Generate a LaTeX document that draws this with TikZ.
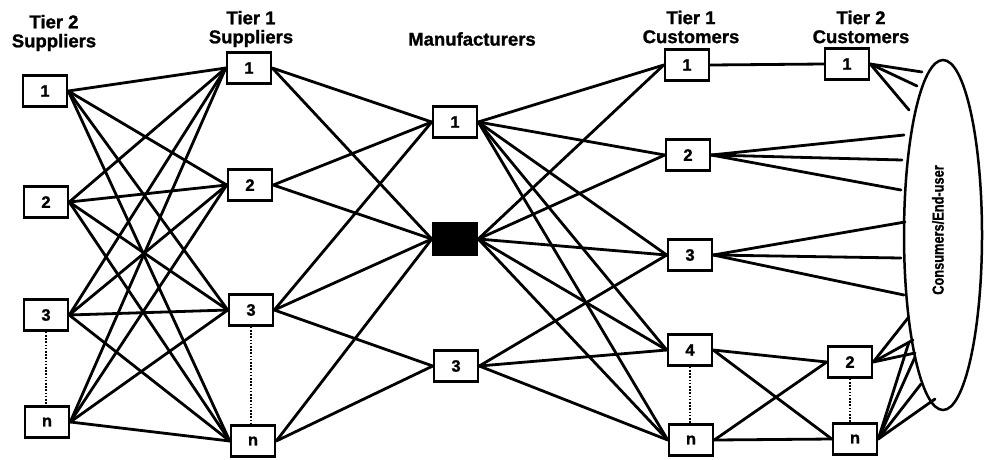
\documentclass[tikz,border=0pt]{standalone}
\usepackage{fontspec}
\setmainfont{Liberation Sans}
\newfontfamily\heavyfont[FakeBold=1.2]{Liberation Sans Bold}
\usepackage{graphicx}
\usetikzlibrary{shapes.geometric,backgrounds}

\begin{document}
\begin{tikzpicture}[x=1pt,y=-1pt,
  box/.style={draw, fill=white, line width=2.5pt, minimum width=44pt, minimum height=31pt,
              inner sep=0pt, font=\fontsize{16.5}{16.5}\selectfont\heavyfont},
  link/.style={line width=2.8pt, line cap=round},
  head/.style={align=center, inner sep=0pt, font=\fontsize{18.5}{19}\selectfont\heavyfont},
  gap/.style={line width=2.6pt, dash pattern=on 1.6pt off 1.6pt}]
\useasboundingbox (0,0) rectangle (984,459);

% column headings
\node[head] (h1) at (54,33) {Tier 2\\Suppliers};
\node[head] (h2) at (251,29) {Tier 1\\Suppliers};
\node[head] (h3) at (472,39) {Manufacturers};
\node[head] (h4) at (691,27) {Tier 1\\Customers};
\node[head] (h5) at (861,27) {Tier 2\\Customers};

% tier 2 suppliers
\node[box] (a1) at (45,91) {1};
\node[box] (a2) at (46,202) {2};
\node[box] (a3) at (46,315) {3};
\node[box] (an) at (47,422) {n};
% tier 1 suppliers
\node[box] (b1) at (249,68) {1};
\node[box] (b2) at (250,185) {2};
\node[box] (b3) at (251,310) {3};
\node[box] (bn) at (253,441) {n};
% manufacturers (focal firm filled)
\node[box] (m1) at (455,122) {1};
\node[box, fill=black] (m2) at (455,239) {};
\node[box] (m3) at (456,366) {3};
% tier 1 customers
\node[box] (c1) at (687,65) {1};
\node[box] (c2) at (688,155) {2};
\node[box] (c3) at (690,255) {3};
\node[box] (c4) at (690,350) {4};
\node[box] (cn) at (691,440) {n};
% tier 2 customers
\node[box] (d1) at (847,64) {1};
\node[box] (d2) at (850,362) {2};
\node[box] (dn) at (855,439) {n};

% consumers
\node[draw, ellipse, line width=2.5pt, minimum width=78pt, minimum height=350pt, inner sep=0pt]
  (cons) at (943,235) {};
\node[rotate=90, inner sep=0pt, font=\fontsize{16}{16}\selectfont\heavyfont] (ctext) at (938,230)
  {\scalebox{0.8}[1]{Consumers/End-user}};

% free ends of the links into the consumer ellipse
\coordinate (k1) at (922,72);
\coordinate (k2) at (917,86);
\coordinate (k3) at (909,110);
\coordinate (k4) at (904,135);
\coordinate (k5) at (902,160);
\coordinate (k6) at (901,190);
\coordinate (k7) at (905,222);
\coordinate (k8) at (901,258);
\coordinate (k9) at (904,295);
\coordinate (k10) at (908,318);
\coordinate (k11) at (913,340);
\coordinate (k12) at (915,353);
\coordinate (k13) at (909,342);
\coordinate (k14) at (915,357);
\coordinate (k15) at (921,384);
\coordinate (k16) at (935,399);

\begin{scope}[on background layer]
  % tier 2 -> tier 1 suppliers
  \foreach \s in {a1,a2,a3,an}
    \foreach \t in {b1,b2,b3,bn}
      \draw[link] (\s.east) -- (\t.west);
  % tier 1 suppliers -> manufacturers
  \foreach \s/\t in {b1/m1,b1/m2,b2/m1,b2/m2,b3/m1,b3/m2,b3/m3,bn/m2,bn/m3}
    \draw[link] (\s.east) -- (\t.west);
  % manufacturers -> tier 1 customers
  \foreach \s in {m1,m2}
    \foreach \t in {c1,c2,c3,c4,cn}
      \draw[link] (\s.east) -- (\t.west);
  \foreach \t in {c3,c4,cn}
    \draw[link] (m3.east) -- (\t.west);
  % tier 1 -> tier 2 customers
  \foreach \s/\t in {c1/d1,c4/d2,c4/dn,cn/d2,cn/dn}
    \draw[link] (\s.east) -- (\t.west);
  % links to consumers
  \foreach \k in {k1,k2,k3} \draw[link] (d1.east) -- (\k);
  \foreach \k in {k4,k5,k6} \draw[link] (c2.east) -- (\k);
  \foreach \k in {k7,k8,k9} \draw[link] (c3.east) -- (\k);
  \foreach \k in {k10,k11,k12} \draw[link] (d2.east) -- (\k);
  \foreach \k in {k13,k14,k15,k16} \draw[link] (dn.east) -- (\k);
\end{scope}

% dotted continuation marks
\draw[gap] (a3.south) -- (a3.south |- an.north);
\draw[gap] (b3.south) -- (b3.south |- bn.north);
\draw[gap] (c4.south) -- (c4.south |- cn.north);
\draw[gap] (d2.south) -- (d2.south |- dn.north);
\end{tikzpicture}
\end{document}
